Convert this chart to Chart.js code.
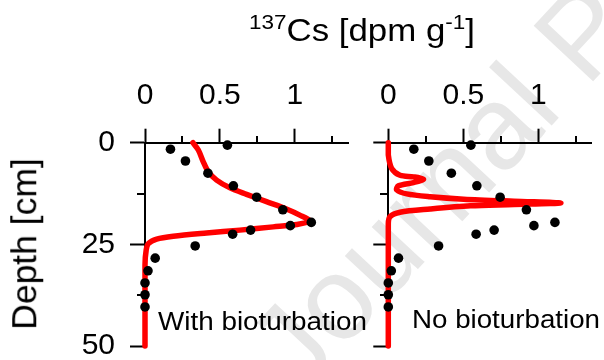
<!DOCTYPE html>
<html><head><meta charset="utf-8">
<script src="https://cdn.jsdelivr.net/npm/chart.js@4.4.1/dist/chart.umd.min.js"></script>
<style>
html,body{margin:0;padding:0;background:#fff;}
#wrap{position:relative;width:604px;height:360px;overflow:hidden;font-family:"Liberation Sans",Arial,sans-serif;color:#000;}
.abs{position:absolute;white-space:nowrap;line-height:1;}
#wm{left:227px;top:327px;font-size:118px;color:#e7e7e7;transform-origin:0 0;transform:rotate(-47deg);}
#title{left:249px;top:15px;font-size:31px;line-height:31px;transform-origin:0 50%;}
#title span{font-size:20px;line-height:0;vertical-align:12px;}
#ytitle{left:25px;top:244px;font-size:35.5px;transform:translate(-50%,-50%) rotate(-90deg);}
#lab1{left:158px;top:308px;font-size:26px;transform-origin:0 0;}
#lab2{left:411.7px;top:306.3px;font-size:26px;transform-origin:0 0;}
</style></head>
<body><div id="wrap">
<div id="wm" class="abs">Journal Pre-proof</div>
<div style="position:absolute;left:0;top:0;width:360px;height:360px"><canvas id="c1" width="360" height="360"></canvas></div>
<div style="position:absolute;left:360px;top:0;width:244px;height:360px"><canvas id="c2" width="244" height="360"></canvas></div>
<div id="title" class="abs"><span>137</span>Cs [dpm g<span>-1</span>]</div>
<div id="ytitle" class="abs">Depth [cm]</div>
<div id="lab1" class="abs">With bioturbation</div>
<div id="lab2" class="abs">No bioturbation</div>
</div>
<script>
// ---- data ----
const depthObs = [0.6, 1.6, 4.5, 7.5, 10.6, 13.4, 16.5, 19.6, 20.4, 21.5, 22.5, 25.4, 28.4, 31.5, 34.5, 37.4, 40.4];
const csObs    = [0.55, 0.17, 0.27, 0.42, 0.59, 0.745, 0.92, 1.11, 0.97, 0.705, 0.585, 0.335, 0.068, 0.02, 0.0, 0.0, 0.0];

const depthBio = [0, 1.8, 4.7, 7.1, 9.2, 11.1, 12.7, 14.5, 16.3, 17.8, 19.3, 20.1, 20.7, 21.5, 22.2, 23.0, 23.7, 24.8, 26.4, 30, 50];
const csBio    = [0.32, 0.356, 0.389, 0.422, 0.478, 0.567, 0.678, 0.811, 0.944, 1.033, 1.10, 1.011, 0.856, 0.633, 0.411, 0.189, 0.078, 0.022, 0.008, 0, 0];

const depthNoBio = [0, 3.0, 6.3, 8.0, 8.4, 9.0, 9.8, 10.6, 11.6, 12.6, 13.3, 13.9, 14.4, 14.8, 15.2, 15.5, 16.3, 17.1, 18.2, 20, 50];
const csNoBio    = [0, 0, 0.022, 0.078, 0.168, 0.235, 0.168, 0.067, 0.056, 0.123, 0.279, 0.502, 0.837, 1.15, 0.837, 0.547, 0.279, 0.078, 0.011, 0, 0];

const xMajorTicks = [0, 0.5, 1];
const xMinorTicks = [0.25, 0.75, 1.25];
const yMajorTicks = [0, 25, 50];
const yMinorTicks = [12.5, 37.5];

// ---- helpers ----
const FONT = "'Liberation Sans', Arial, sans-serif";
const pts = (xs, ys) => xs.map((v, i) => ({x: v, y: ys[i]}));

const minorTicksPlugin = {
  id: 'minorTicks',
  afterDraw(chart) {
    const ctx = chart.ctx, xs = chart.scales.x, ys = chart.scales.y;
    ctx.save();
    ctx.strokeStyle = '#000'; ctx.lineWidth = 2; ctx.lineCap = 'butt';
    ctx.beginPath();
    const top = Math.round(chart.chartArea.top);
    xMinorTicks.forEach(v => { const p = Math.round(xs.getPixelForValue(v)); ctx.moveTo(p, top); ctx.lineTo(p, top - 7); });
    const left = Math.round(chart.chartArea.left);
    yMinorTicks.forEach(v => { const p = Math.round(ys.getPixelForValue(v)); ctx.moveTo(left, p); ctx.lineTo(left - 8, p); });
    ctx.stroke();
    ctx.restore();
  }
};

function makeChart(id, model, yAxisWidth, padRight, showYLabels) {
  return new Chart(document.getElementById(id), {
    type: 'scatter',
    data: { datasets: [
      { data: pts(csObs, depthObs), pointRadius: 4.8, pointHoverRadius: 4.8, backgroundColor: '#000', borderColor: '#000', borderWidth: 0, clip: false, order: 1 },
      { data: model, showLine: true, borderColor: '#ff0000', borderWidth: 5.5, pointRadius: 0, tension: 0.3, borderCapStyle: 'round', borderJoinStyle: 'round', clip: false, order: 2 }
    ]},
    options: {
      responsive: false, animation: false, devicePixelRatio: 1,
      layout: { padding: { left: 0, top: 0, right: padRight, bottom: 14 } },
      plugins: { legend: { display: false }, tooltip: { enabled: false } },
      scales: {
        x: {
          type: 'linear', position: 'top', min: 0, max: 1.355,
          afterBuildTicks: s => { s.ticks = xMajorTicks.map(v => ({value: v})); },
          afterFit: s => { s.height = 142.7; s.paddingLeft = 0; s.paddingRight = 0; },
          ticks: { font: { family: FONT, size: 30 }, color: '#000', padding: 15, maxRotation: 0, callback: v => String(v) },
          grid: { drawOnChartArea: false, drawTicks: true, tickLength: 14, tickWidth: 2, tickColor: '#000' },
          border: { display: true, color: '#000', width: 2 }
        },
        y: {
          type: 'linear', position: 'left', reverse: true, min: 0, max: 50,
          afterBuildTicks: s => { s.ticks = yMajorTicks.map(v => ({value: v})); },
          afterFit: s => { s.width = yAxisWidth; s.paddingTop = 0; s.paddingBottom = 0; },
          ticks: { font: { family: FONT, size: 30 }, color: '#000', padding: 15, callback: v => showYLabels ? String(v) : '' },
          grid: { drawOnChartArea: false, drawTicks: true, tickLength: 15, tickWidth: 2, tickColor: '#000' },
          border: { display: true, color: '#000', width: 2 }
        }
      }
    },
    plugins: [minorTicksPlugin]
  });
}

makeChart('c1', pts(csBio, depthBio), 145, 12, true);
makeChart('c2', pts(csNoBio, depthNoBio), 28.3, 12.3, false);

// stretch HTML labels horizontally to the reference widths
function fitWidth(id, w) {
  const el = document.getElementById(id);
  const cur = el.getBoundingClientRect().width;
  el.style.transform = 'scaleX(' + (w / cur) + ')';
}
fitWidth('title', 226);
fitWidth('lab1', 209);
fitWidth('lab2', 188);
</script>
</body></html>
